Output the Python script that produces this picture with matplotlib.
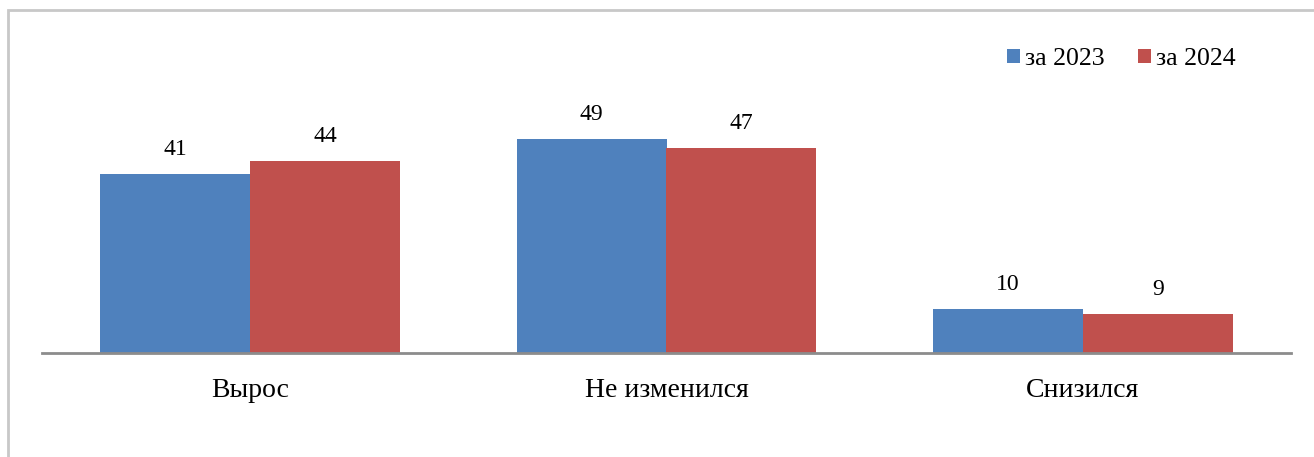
import numpy as np
import matplotlib.pyplot as plt
from matplotlib.patches import Rectangle

# data
categories = ["Вырос", "Не изменился", "Снизился"]
series_names = ["за 2023", "за 2024"]
values_2023 = [41, 49, 10]
values_2024 = [44, 47, 9]

plt.rcParams['font.family'] = ['Liberation Serif', 'DejaVu Serif']

W, H = 1314, 457
fig = plt.figure(figsize=(W / 100, H / 100), dpi=100)

# light gray frame around the chart area
fig.patches.append(Rectangle((8 / W, -0.1), 1.2, 1 - 10 / H + 0.1,
                             transform=fig.transFigure, fill=False,
                             edgecolor='#c8c8c8', linewidth=2))

ax = fig.add_axes([42 / W, 104 / H, (1291 - 42) / W, 262 / H])

x = np.arange(len(categories))
width = 0.36
b1 = ax.bar(x - width / 2, values_2023, width, color='#4F81BD', label=series_names[0])
b2 = ax.bar(x + width / 2, values_2024, width, color='#C0504D', label=series_names[1])

ax.bar_label(b1, padding=10, fontsize=17)
ax.bar_label(b2, padding=10, fontsize=17)

ax.set_xlim(-0.5, len(categories) - 0.5)
ax.set_ylim(0, 60)
ax.set_xticks(x)
ax.set_xticklabels(categories, fontsize=20)
ax.tick_params(axis='x', length=0, pad=18)
ax.set_yticks([])
for side in ['top', 'right', 'left']:
    ax.spines[side].set_visible(False)
ax.spines['bottom'].set_color('#8c8c8c')
ax.spines['bottom'].set_linewidth(2)

fig.legend(loc='upper right', bbox_to_anchor=(1259 / W, 1 - 25 / H),
           ncol=2, frameon=False, fontsize=18.5, handlelength=0.5,
           handleheight=0.5, handletextpad=0.2, columnspacing=1.3)

fig.savefig('out.png', dpi=100)
